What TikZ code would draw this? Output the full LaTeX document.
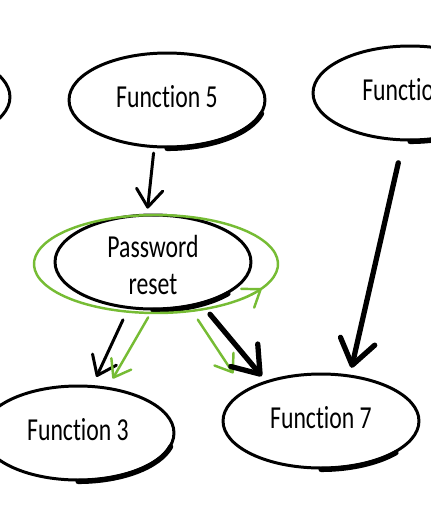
\documentclass[tikz,border=0pt]{standalone}
\usepackage{fontspec}
\setmainfont{Carlito}[Ligatures=NoCommon]
\usetikzlibrary{arrows.meta,shapes.geometric}
\definecolor{hlgreen}{RGB}{118,188,52}
\newcommand\lbl[2][-4pt]{\raisebox{#1}[0pt][0pt]{\scalebox{1}[1.35]{#2}}}

\begin{document}
\begin{tikzpicture}[x=0.02cm, y=-0.02cm,
    func/.style={ellipse, draw, line width=1.7pt, inner sep=0pt,
      minimum width=3.92cm, minimum height=1.88cm,
      font=\fontsize{13.5}{15.5}\selectfont},
    pen/.style={line width=2.9pt, line cap=round},
    thin arrow/.style={line width=1.7pt, line cap=round,
      -{Straight Barb[round, length=10pt, width=15pt]}},
    thick arrow/.style={line width=3pt, line cap=round,
      -{Straight Barb[round, length=14pt, width=20pt]}},
    green arrow/.style={hlgreen, line width=1.4pt, line cap=round,
      -{Straight Barb[round, length=9pt, width=13pt]}}]
	\useasboundingbox (0,0) rectangle (431,528);

	% functions
	\node[func] (f4) at (-88,97) {};
	\node[func] (f5) at (167,100) {\lbl{Function 5}};
	\node[func, minimum width=3.88cm] (f6) at (410,93) {};
	\node[font=\fontsize{13.5}{15.5}\selectfont, inner sep=0pt, anchor=west] (f6text) at (362,93) {\lbl{Function}};
	\node[func] (pw) at (153,262) {\lbl[-8.5pt]{\begin{tabular}{@{}c@{}}Password\\reset\end{tabular}}};
	\node[func, minimum width=3.84cm] (f3) at (78,433) {\lbl{Function 3}};
	\node[func] (f7) at (321,421) {\lbl{Function 7}};

	% heavier pen strokes
	\draw[pen] (f5.south) arc[start angle=90, end angle=15, x radius=98, y radius=47];
	\draw[pen] (f6.south) arc[start angle=90, end angle=60, x radius=97, y radius=47];
	\draw[pen] (pw.south) arc[start angle=90, end angle=40, x radius=98, y radius=47];
	\draw[pen] (f3.south) arc[start angle=90, end angle=15, x radius=96, y radius=47];
	\draw[pen] (f7.south) arc[start angle=90, end angle=40, x radius=98, y radius=47];

	% highlight round password reset
	\draw[green arrow] (156,264) ++(60:122 and 49)
		arc[start angle=60, end angle=-330, x radius=122, y radius=49];

	% connectors
	\draw[thin arrow, shorten <=.1cm, shorten >=.1cm] (f5.255) -- (pw.97);
	\draw[thick arrow, shorten <=.44cm, shorten >=.14cm] (f6.262) -- (f7.58);
	\draw[thin arrow, shorten <=.24cm, shorten >=.18cm] (pw.242) -- (f3.73);
	\draw[green arrow, shorten <=.16cm, shorten >=.19cm] (pw.269) -- (f3.57);
	\draw[green arrow, shorten <=.3cm, shorten >=.4cm] (pw.309) -- (f7.158);
	\draw[thick arrow, shorten <=.26cm, shorten >=.12cm] (pw.319) -- (f7.144);
\end{tikzpicture}
\end{document}
